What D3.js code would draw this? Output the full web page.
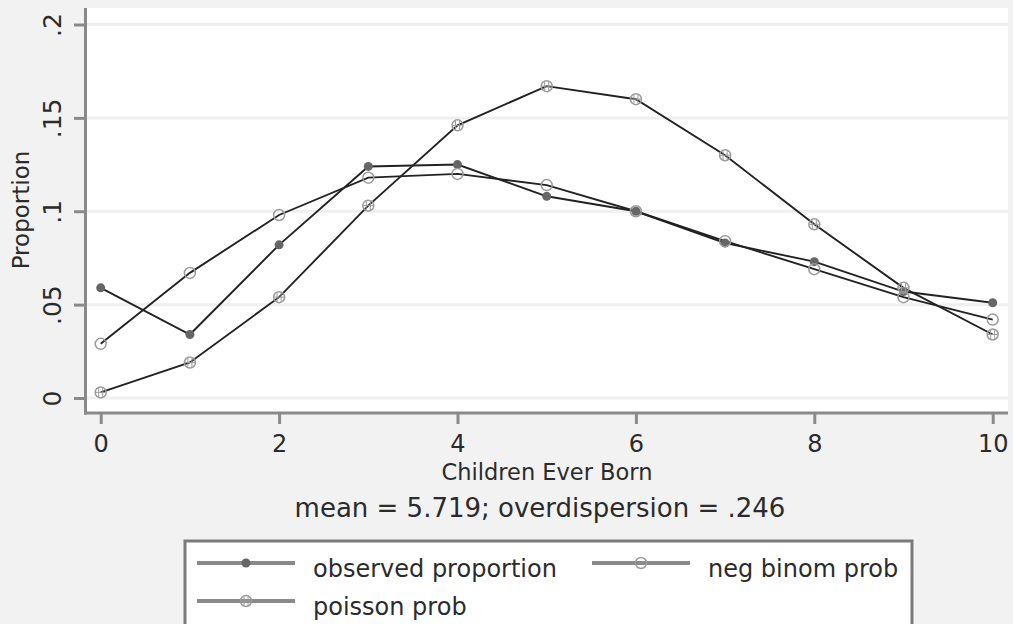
<!DOCTYPE html>
<html>
<head>
<meta charset="utf-8">
<script src="https://cdn.jsdelivr.net/npm/d3@7"></script>
<style>
  html, body { margin: 0; padding: 0; background: #f2f2f2; }
  svg { display: block; font-family: "DejaVu Sans", sans-serif; }
</style>
</head>
<body>
<svg id="chart" width="1013" height="624"></svg>
<script>
// ---- data ----
const children = [0, 1, 2, 3, 4, 5, 6, 7, 8, 9, 10];
const observed = [0.059, 0.034, 0.082, 0.124, 0.125, 0.108, 0.100, 0.083, 0.073, 0.057, 0.051];
const negBinom = [0.029, 0.067, 0.098, 0.118, 0.120, 0.114, 0.100, 0.084, 0.069, 0.054, 0.042];
const poisson  = [0.003, 0.019, 0.054, 0.103, 0.146, 0.167, 0.160, 0.130, 0.093, 0.059, 0.034];
const xTicks = [0, 2, 4, 6, 8, 10];
const xTickLabels = ["0", "2", "4", "6", "8", "10"];
const yTicks = [0, 0.05, 0.1, 0.15, 0.2];
const yTickLabels = ["0", ".05", ".1", ".15", ".2"];
const seriesNames = ["observed proportion", "neg binom prob", "poisson prob"];
const xTitle = "Children Ever Born";
const yTitle = "Proportion";
const subtitle = "mean = 5.719; overdispersion = .246";

// ---- layout ----
const svg = d3.select("#chart");
const plot = { left: 87, right: 1008, top: 8, bottom: 412 };
const x = d3.scaleLinear().domain([0, 10]).range([100.7, 992.7]);
const y = d3.scaleLinear().domain([0, 0.2]).range([398, 24.5]);
const axisColor = "#8a8a8a";
const textColor = "#2b2b2b";

svg.append("rect").attr("x", 0).attr("y", 0).attr("width", 1013).attr("height", 624).attr("fill", "#f2f2f2");
svg.append("rect").attr("x", plot.left).attr("y", plot.top)
  .attr("width", plot.right - plot.left).attr("height", plot.bottom - plot.top).attr("fill", "#ffffff");

// gridlines
svg.append("g").selectAll("line").data(yTicks).join("line")
  .attr("x1", plot.left).attr("x2", plot.right)
  .attr("y1", d => y(d)).attr("y2", d => y(d))
  .attr("stroke", "#efefef").attr("stroke-width", 3);

// y axis
const yAxis = svg.append("g").attr("transform", "translate(85,0)")
  .call(d3.axisLeft(y).tickValues(yTicks).tickFormat((d, i) => yTickLabels[i]).tickSize(11));
yAxis.select(".domain").remove();
yAxis.selectAll(".tick line").attr("stroke", axisColor).attr("stroke-width", 3);
yAxis.selectAll(".tick text")
  .attr("x", 0).attr("y", 0).attr("dy", 0)
  .attr("transform", "translate(-24,0) rotate(-90)")
  .attr("text-anchor", "middle")
  .attr("fill", textColor).style("font-size", "25px").style("font-family", "DejaVu Sans, sans-serif");

// x axis
const xAxis = svg.append("g").attr("transform", "translate(0,413)")
  .call(d3.axisBottom(x).tickValues(xTicks).tickFormat((d, i) => xTickLabels[i]).tickSize(11));
xAxis.select(".domain").remove();
xAxis.selectAll(".tick line").attr("stroke", axisColor).attr("stroke-width", 3);
xAxis.selectAll(".tick text")
  .attr("y", 39).attr("dy", 0)
  .attr("fill", textColor).style("font-size", "24px").style("font-family", "DejaVu Sans, sans-serif");

// axis lines
svg.append("line").attr("x1", 85.5).attr("x2", 85.5).attr("y1", plot.top).attr("y2", 414.5)
  .attr("stroke", axisColor).attr("stroke-width", 3);
svg.append("line").attr("x1", 84).attr("x2", plot.right).attr("y1", 413).attr("y2", 413)
  .attr("stroke", axisColor).attr("stroke-width", 3);

// titles
svg.append("text").attr("x", 547).attr("y", 480).attr("text-anchor", "middle")
  .attr("fill", textColor).style("font-size", "22.5px").text(xTitle);
svg.append("text").attr("transform", "translate(29,210) rotate(-90)").attr("text-anchor", "middle")
  .attr("fill", textColor).style("font-size", "23px").text(yTitle);
svg.append("text").attr("x", 540).attr("y", 517).attr("text-anchor", "middle")
  .attr("fill", textColor).style("font-size", "26px").text(subtitle);

// lines
const series = [
  { name: seriesNames[0], values: observed, marker: "filled" },
  { name: seriesNames[1], values: negBinom, marker: "hollow" },
  { name: seriesNames[2], values: poisson, marker: "plus" }
];
const line = d3.line().x((d, i) => x(children[i])).y(d => y(d));
svg.append("g").selectAll("path").data(series).join("path")
  .attr("d", s => line(s.values))
  .attr("fill", "none").attr("stroke", "#222").attr("stroke-width", 1.9);

function drawMarker(g, type, cx, cy) {
  if (type === "filled") {
    g.append("circle").attr("cx", cx).attr("cy", cy).attr("r", 4.5).attr("fill", "#666");
  } else if (type === "hollow") {
    g.append("circle").attr("cx", cx).attr("cy", cy).attr("r", 5.5)
      .attr("fill", "none").attr("stroke", "#9a9a9a").attr("stroke-width", 1.5);
  } else {
    g.append("circle").attr("cx", cx).attr("cy", cy).attr("r", 5.5)
      .attr("fill", "none").attr("stroke", "#9a9a9a").attr("stroke-width", 1.5);
    g.append("line").attr("x1", cx - 2).attr("x2", cx - 2).attr("y1", cy - 4.5).attr("y2", cy + 4.5)
      .attr("stroke", "#9a9a9a").attr("stroke-width", 1);
    g.append("line").attr("x1", cx + 2).attr("x2", cx + 2).attr("y1", cy - 4.5).attr("y2", cy + 4.5)
      .attr("stroke", "#9a9a9a").attr("stroke-width", 1);
    g.append("line").attr("x1", cx - 5).attr("x2", cx + 5).attr("y1", cy).attr("y2", cy)
      .attr("stroke", "#9a9a9a").attr("stroke-width", 1);
  }
}
const mg = svg.append("g");
series.forEach(s => s.values.forEach((v, i) => drawMarker(mg, s.marker, x(children[i]), y(v))));

// legend
const lg = svg.append("g");
lg.append("rect").attr("x", 185).attr("y", 541).attr("width", 727).attr("height", 140)
  .attr("fill", "#ffffff").attr("stroke", "#7a7a7a").attr("stroke-width", 3);
const legendPos = [
  { x: 197, y: 563 },
  { x: 592, y: 563 },
  { x: 197, y: 601 }
];
series.forEach((s, i) => {
  const p = legendPos[i];
  lg.append("line").attr("x1", p.x).attr("x2", p.x + 98).attr("y1", p.y).attr("y2", p.y)
    .attr("stroke", "#8a8a8a").attr("stroke-width", 4);
  drawMarker(lg, s.marker, p.x + 49, p.y);
  lg.append("text").attr("x", p.x + 116).attr("y", p.y + 14)
    .attr("fill", textColor).style("font-size", "24px").text(s.name);
});
</script>
</body>
</html>
